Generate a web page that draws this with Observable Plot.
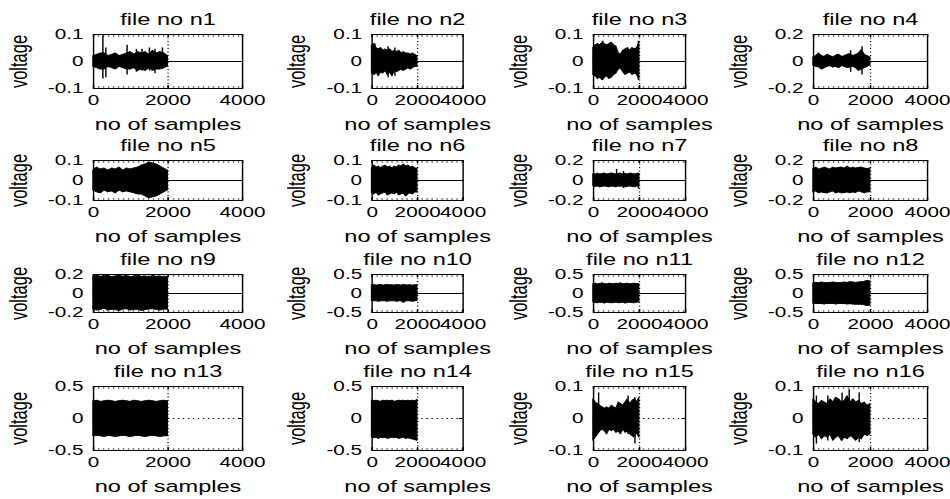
<!DOCTYPE html>
<html><head><meta charset="utf-8">
<script src="https://cdn.jsdelivr.net/npm/d3@7"></script>
<script src="https://cdn.jsdelivr.net/npm/@observablehq/plot@0.6"></script>
<style>
html,body{margin:0;padding:0;background:#fff;}
#stage{position:relative;width:665px;height:499px;transform:scaleX(1.42857);transform-origin:0 0;}
#stage > div{position:absolute;}
#stage svg{max-width:none !important;}
</style></head><body><div id="stage"></div>
<script>
// ---- data ----
const titles = ["file no n1","file no n2","file no n3","file no n4","file no n5","file no n6","file no n7","file no n8",
  "file no n9","file no n10","file no n11","file no n12","file no n13","file no n14","file no n15","file no n16"];
const yLimits = [0.1,0.1,0.1,0.2, 0.1,0.1,0.2,0.2, 0.2,0.5,0.5,0.5, 0.5,0.5,0.1,0.1];
const xTicks = [0, 2000, 4000];
const xLabel = "no of samples";
const yLabel = "voltage";
const sampleX = [0,100,200,300,400,500,600,700,800,900,1000,1100,1200,1300,1400,1500,1600,1700,1800,1900,2000];
const tailX = [2000, 4000];

const n1_hi = [0.02,0.025,0.03,0.03,0.02,0.025,0.03,0.02,0.025,0.03,0.035,0.025,0.035,0.03,0.035,0.025,0.04,0.03,0.035,0.03,0.02];
const n1_lo = [-0.02,-0.025,-0.03,-0.03,-0.02,-0.025,-0.03,-0.02,-0.025,-0.03,-0.03,-0.025,-0.035,-0.03,-0.035,-0.025,-0.035,-0.03,-0.03,-0.025,-0.02];
const n2_hi = [0.06,0.065,0.05,0.045,0.05,0.04,0.045,0.04,0.045,0.035,0.04,0.035,0.04,0.03,0.035,0.03,0.03,0.025,0.03,0.025,0.02];
const n2_lo = [-0.045,-0.05,-0.04,-0.055,-0.04,-0.045,-0.035,-0.05,-0.04,-0.055,-0.035,-0.04,-0.035,-0.03,-0.035,-0.03,-0.025,-0.03,-0.025,-0.02,-0.02];
const n3_hi = [0.05,0.06,0.065,0.06,0.07,0.065,0.06,0.065,0.07,0.06,0.055,0.03,0.025,0.04,0.045,0.05,0.04,0.05,0.045,0.05,0.07];
const n3_lo = [-0.05,-0.055,-0.065,-0.06,-0.07,-0.06,-0.055,-0.065,-0.06,-0.05,-0.045,-0.03,-0.025,-0.04,-0.05,-0.045,-0.04,-0.05,-0.045,-0.05,-0.065];
const n4_hi = [0.03,0.04,0.06,0.04,0.035,0.05,0.04,0.03,0.045,0.05,0.035,0.04,0.05,0.055,0.04,0.05,0.06,0.085,0.05,0.04,0.03];
const n4_lo = [-0.03,-0.04,-0.045,-0.06,-0.05,-0.04,-0.035,-0.045,-0.04,-0.05,-0.035,-0.04,-0.05,-0.045,-0.04,-0.05,-0.07,-0.06,-0.05,-0.04,-0.03];
const n5_hi = [0.05,0.065,0.055,0.06,0.05,0.06,0.055,0.065,0.05,0.06,0.055,0.06,0.065,0.075,0.08,0.09,0.085,0.08,0.07,0.06,0.05];
const n5_lo = [-0.05,-0.06,-0.065,-0.05,-0.06,-0.055,-0.065,-0.05,-0.06,-0.055,-0.06,-0.065,-0.07,-0.07,-0.08,-0.09,-0.085,-0.08,-0.07,-0.06,-0.05];
const n6_hi = [0.06,0.075,0.065,0.07,0.06,0.07,0.075,0.065,0.07,0.06,0.07,0.065,0.075,0.07,0.08,0.07,0.075,0.065,0.07,0.06,0.06];
const n6_lo = [-0.065,-0.07,-0.06,-0.075,-0.07,-0.065,-0.06,-0.075,-0.07,-0.065,-0.07,-0.06,-0.075,-0.07,-0.065,-0.08,-0.07,-0.065,-0.07,-0.06,-0.06];
const n7_hi = [0.065,0.06,0.07,0.06,0.065,0.07,0.06,0.065,0.07,0.065,0.06,0.065,0.07,0.06,0.065,0.06,0.07,0.065,0.06,0.065,0.07];
const n7_lo = [-0.06,-0.065,-0.06,-0.07,-0.065,-0.06,-0.065,-0.07,-0.06,-0.065,-0.07,-0.06,-0.065,-0.06,-0.07,-0.065,-0.06,-0.065,-0.07,-0.06,-0.065];
const n8_hi = [0.12,0.13,0.11,0.12,0.13,0.12,0.11,0.13,0.12,0.125,0.13,0.12,0.14,0.12,0.13,0.12,0.125,0.13,0.12,0.115,0.12];
const n8_lo = [-0.12,-0.11,-0.13,-0.12,-0.125,-0.13,-0.12,-0.11,-0.13,-0.12,-0.13,-0.125,-0.12,-0.13,-0.12,-0.125,-0.11,-0.12,-0.13,-0.12,-0.115];
const n9_hi = [0.18,0.19,0.175,0.185,0.19,0.17,0.18,0.19,0.175,0.185,0.17,0.18,0.19,0.175,0.18,0.17,0.185,0.175,0.18,0.17,0.18];
const n9_lo = [-0.17,-0.18,-0.175,-0.16,-0.18,-0.17,-0.175,-0.185,-0.17,-0.165,-0.18,-0.175,-0.17,-0.185,-0.175,-0.17,-0.165,-0.175,-0.18,-0.17,-0.17];
const n10_hi = [0.22,0.23,0.21,0.22,0.225,0.21,0.22,0.23,0.215,0.22,0.21,0.225,0.22,0.21,0.23,0.22,0.215,0.22,0.21,0.22,0.22];
const n10_lo = [-0.2,-0.21,-0.2,-0.22,-0.21,-0.2,-0.21,-0.22,-0.2,-0.21,-0.2,-0.22,-0.21,-0.2,-0.25,-0.21,-0.2,-0.21,-0.22,-0.21,-0.2];
const n11_hi = [0.25,0.26,0.24,0.25,0.27,0.25,0.24,0.26,0.25,0.24,0.26,0.25,0.27,0.24,0.25,0.26,0.24,0.25,0.26,0.25,0.25];
const n11_lo = [-0.24,-0.25,-0.26,-0.24,-0.25,-0.27,-0.24,-0.25,-0.26,-0.25,-0.24,-0.26,-0.25,-0.24,-0.27,-0.25,-0.24,-0.25,-0.26,-0.24,-0.24];
const n12_hi = [0.27,0.28,0.27,0.29,0.28,0.27,0.28,0.29,0.28,0.27,0.28,0.29,0.28,0.3,0.29,0.28,0.29,0.3,0.31,0.33,0.32];
const n12_lo = [-0.27,-0.28,-0.27,-0.28,-0.29,-0.27,-0.28,-0.27,-0.29,-0.28,-0.27,-0.28,-0.29,-0.28,-0.29,-0.3,-0.29,-0.3,-0.31,-0.33,-0.32];
const n13_hi = [0.27,0.28,0.26,0.27,0.28,0.27,0.26,0.27,0.28,0.27,0.26,0.28,0.27,0.26,0.27,0.28,0.27,0.26,0.27,0.28,0.27];
const n13_lo = [-0.28,-0.27,-0.28,-0.29,-0.27,-0.28,-0.29,-0.28,-0.27,-0.28,-0.29,-0.28,-0.27,-0.28,-0.29,-0.28,-0.27,-0.28,-0.29,-0.28,-0.28];
const n14_hi = [0.28,0.27,0.28,0.27,0.26,0.28,0.27,0.28,0.27,0.28,0.26,0.27,0.28,0.27,0.28,0.27,0.28,0.27,0.28,0.27,0.29];
const n14_lo = [-0.3,-0.31,-0.3,-0.32,-0.3,-0.31,-0.3,-0.32,-0.31,-0.3,-0.31,-0.3,-0.32,-0.31,-0.3,-0.32,-0.31,-0.32,-0.33,-0.34,-0.35];
const n15_hi = [0.06,0.05,0.045,0.04,0.035,0.03,0.035,0.03,0.04,0.035,0.03,0.05,0.045,0.04,0.05,0.06,0.045,0.055,0.06,0.05,0.065];
const n15_lo = [-0.07,-0.06,-0.05,-0.04,-0.035,-0.04,-0.05,-0.035,-0.04,-0.035,-0.045,-0.04,-0.05,-0.035,-0.045,-0.04,-0.05,-0.055,-0.06,-0.045,-0.06];
const n16_hi = [0.06,0.05,0.045,0.055,0.05,0.045,0.06,0.05,0.065,0.06,0.05,0.055,0.07,0.05,0.06,0.05,0.055,0.045,0.05,0.04,0.045];
const n16_lo = [-0.05,-0.06,-0.05,-0.065,-0.055,-0.06,-0.05,-0.07,-0.06,-0.055,-0.07,-0.06,-0.065,-0.055,-0.06,-0.07,-0.06,-0.065,-0.05,-0.055,-0.05];

// isolated spikes: owning panel, sample position, peak, trough
const spikePanel = [0,0,0,0,0,0,0,0, 1,1,1, 2,2, 3,3, 6,6,6, 14,14,14, 15,15,15,15,15];
const spikeX     = [250,330,900,1150,1300,1500,1650,1850, 120,700,1000, 400,1950, 1300,1700, 1000,1300,1950, 220,1500,1800, 100,500,1000,1250,1600];
const spikeTop   = [0.095,0.05,0.06,0.045,0.045,0.05,0.045,0.05, 0.065,0.055,0.05, 0.075,0.075, 0.08,0.11, 0.11,0.09,0.07, 0.08,0.07,0.065, 0.07,0.07,0.08,0.09,0.08];
const spikeBot   = [-0.065,-0.06,-0.05,-0.04,-0.035,-0.035,-0.045,-0.03, -0.05,-0.06,-0.055, -0.07,-0.07, -0.08,-0.1, -0.06,-0.08,-0.085, -0.04,-0.05,-0.08, -0.08,-0.07,-0.07,-0.06,-0.075];
// rows whose signal is zero-padded out to 4000
const paddedRows = [0, 1, 2];

const his = [n1_hi,n2_hi,n3_hi,n4_hi,n5_hi,n6_hi,n7_hi,n8_hi,n9_hi,n10_hi,n11_hi,n12_hi,n13_hi,n14_hi,n15_hi,n16_hi];
const los = [n1_lo,n2_lo,n3_lo,n4_lo,n5_lo,n6_lo,n7_lo,n8_lo,n9_lo,n10_lo,n11_lo,n12_lo,n13_lo,n14_lo,n15_lo,n16_lo];

// ---- layout (unstretched coordinates; stage is stretched horizontally) ----
const colLeft = [65.1, 260.4, 415.1, 569.1];
const colWidth = [104.3, 63.7, 64.4, 79.8];
const rowTop = [34, 160, 274, 386];
const rowHeight = [54, 40, 38, 64];
const font = "'Liberation Sans', Arial, Helvetica, sans-serif";
const stage = document.getElementById("stage");

function fmt(d) { return d === 0 ? "0" : String(d); }

for (let i = 0; i < 16; i++) {
  const r = Math.floor(i / 4), c = i % 4;
  const W = colWidth[c], H = rowHeight[r];
  const ml = 70, mr = 30, mt = 30, mb = 50;
  const lim = yLimits[i];
  const yTicks = [-lim, 0, lim];
  const env = sampleX.map((x, k) => ({x, hi: his[i][k], lo: los[i][k]}));
  const spikes = spikeX.map((x, k) => ({p: spikePanel[k], x, hi: spikeTop[k], lo: spikeBot[k]})).filter(d => d.p === i);
  const tail = tailX.map(x => ({x, y: 0}));
  const dash = {stroke: "black", strokeDasharray: "1,2.5", strokeWidth: 0.9};
  const plot = Plot.plot({
    width: W + ml + mr, height: H + mt + mb,
    marginLeft: ml, marginRight: mr, marginTop: mt, marginBottom: mb,
    x: {domain: [0, 4000]},
    y: {domain: [-lim, lim]},
    style: {fontFamily: font, fontSize: "14.5px", color: "black", background: "transparent", overflow: "visible", maxWidth: "none"},
    marks: [
      Plot.ruleX([2000], dash),
      Plot.ruleY([0], dash),
      Plot.ruleY([lim], {...dash, dy: 1.5}),
      Plot.ruleY([-lim], {...dash, dy: -1.5}),
      paddedRows.includes(r) ? Plot.lineY(tail, {x: "x", y: "y", stroke: "black", strokeWidth: 1.2}) : null,
      Plot.areaY(env, {x: "x", y1: "lo", y2: "hi", fill: "black", stroke: "black", strokeWidth: 0.8}),
      Plot.ruleX(spikes, {x: "x", y1: "lo", y2: "hi", stroke: "black", strokeWidth: 1}),
      Plot.frame({stroke: "black", strokeWidth: 1}),
      Plot.tickX(xTicks, {x: d => d, insetBottom: H - 3, stroke: "black"}),
      Plot.tickX(xTicks, {x: d => d, insetTop: H - 3, stroke: "black"}),
      Plot.tickY(yTicks, {y: d => d, insetRight: W - 2.5, stroke: "black"}),
      Plot.tickY(yTicks, {y: d => d, insetLeft: W - 2.5, stroke: "black"}),
      Plot.axisX(xTicks, {tickSize: 0, tickPadding: 6, tickFormat: fmt, label: null, fontSize: 14.5}),
      Plot.axisY(yTicks, {tickSize: 0, tickPadding: 7, tickFormat: fmt, label: null, fontSize: 14.5}),
      Plot.text([titles[i]], {frameAnchor: "top", dy: -15, lineAnchor: "middle", textAnchor: "middle", fontSize: 16.5, fill: "black"}),
      Plot.text([xLabel], {frameAnchor: "bottom", dy: 36, lineAnchor: "middle", textAnchor: "middle", fontSize: 16.5, fill: "black"}),
      Plot.text([yLabel], {x: () => 0, y: () => 0, dx: -52, rotate: -90, lineAnchor: "middle", textAnchor: "middle", fontSize: 16.5, fill: "black"})
    ]
  });
  const holder = document.createElement("div");
  holder.style.left = (colLeft[c] - ml) + "px";
  holder.style.top = (rowTop[r] - mt) + "px";
  holder.appendChild(plot);
  stage.appendChild(holder);
}
</script></body></html>
